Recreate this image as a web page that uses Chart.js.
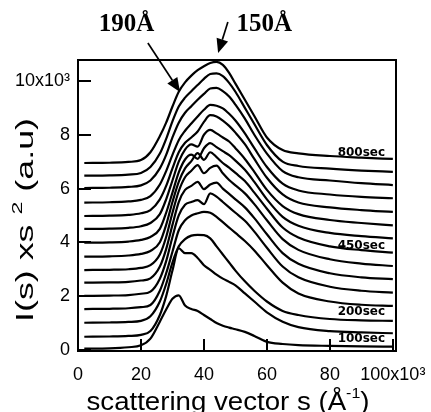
<!DOCTYPE html>
<html><head><meta charset="utf-8">
<script src="https://cdn.jsdelivr.net/npm/chart.js@4.4.1/dist/chart.umd.min.js"></script>
<style>html,body{margin:0;padding:0;background:#fff;}canvas{display:block;}</style>
</head><body>
<canvas id="c" width="431" height="412"></canvas>
<script>
// scattering vector s (x10^-3 Å^-1)
const sValues = [2,10,16,20,23,26,28,30,32,34,36,38,40,42,44,46,48,50,53,56,60,65,70,80,90,100];
const timeLabels = ['100sec','150sec','200sec','250sec','300sec','350sec','400sec','450sec','500sec','550sec','600sec','650sec','700sec','750sec','800sec'];
const curve100 = [0.05,0.06,0.1,0.17,0.42,1.05,1.5,1.9,2.03,1.65,1.52,1.45,1.3,1.15,1.0,0.9,0.83,0.77,0.67,0.52,0.3,0.22,0.18,0.15,0.13,0.12];
const curve150 = [0.49,0.50,0.52,0.56,0.7,1.3,2.0,2.95,3.78,3.6,3.6,3.42,3.15,2.98,2.8,2.65,2.53,2.4,2.1,1.8,1.4,1.05,0.85,0.7,0.65,0.62];
const curve200 = [1.01,1.02,1.04,1.08,1.25,1.8,2.45,3.25,3.85,4.12,4.25,4.28,4.27,4.15,3.85,3.55,3.25,2.95,2.55,2.2,1.8,1.45,1.3,1.15,1.1,1.08];
const curve250 = [1.52,1.53,1.55,1.59,1.67,2.2,2.85,3.65,4.45,4.82,5.0,5.08,5.13,5.1,4.95,4.75,4.55,4.35,4.05,3.7,3.15,2.5,2.1,1.8,1.68,1.64];
const curve300 = [2.01,2.02,2.04,2.09,2.17,2.65,3.3,4.2,5.0,5.4,5.5,5.57,5.42,5.82,5.7,5.5,5.3,5.1,4.8,4.4,3.8,3.1,2.7,2.35,2.2,2.13];
const curve350 = [2.50,2.51,2.53,2.58,2.66,3.1,3.75,4.65,5.5,5.95,6.1,6.25,5.98,6.15,6.22,6.0,5.8,5.6,5.3,4.9,4.3,3.6,3.2,2.85,2.7,2.63];
const curve400 = [2.97,2.98,3.0,3.05,3.15,3.55,4.2,5.1,5.9,6.42,6.66,6.87,6.57,6.77,6.85,6.57,6.32,6.12,5.82,5.42,4.82,4.12,3.72,3.37,3.21,3.12];
const curve450 = [3.47,3.48,3.51,3.57,3.68,4.0,4.65,5.5,6.25,6.75,7.02,7.32,7.07,7.35,7.17,6.95,6.78,6.58,6.28,5.85,5.25,4.55,4.18,3.85,3.71,3.62];
const curve500 = [3.99,4.00,4.03,4.09,4.2,4.5,5.1,5.85,6.6,7.08,7.26,7.1,7.5,7.69,7.54,7.39,7.24,7.04,6.7,6.25,5.6,4.95,4.62,4.35,4.23,4.15];
const curve550 = [4.50,4.51,4.54,4.60,4.72,5.05,5.6,6.3,7.0,7.45,7.64,7.56,8.0,8.18,8.05,7.9,7.75,7.5,7.1,6.62,5.95,5.35,5.05,4.83,4.72,4.63];
const curve600 = [4.98,4.99,5.02,5.08,5.2,5.6,6.1,6.75,7.35,7.7,7.9,8.12,8.48,8.73,8.68,8.53,8.33,8.08,7.65,7.1,6.4,5.78,5.48,5.3,5.2,5.13];
const curve650 = [5.48,5.49,5.52,5.58,5.72,6.15,6.65,7.25,7.8,8.15,8.42,8.68,8.93,9.11,9.08,8.98,8.78,8.53,8.05,7.5,6.8,6.18,5.93,5.78,5.69,5.64];
const curve700 = [6.02,6.03,6.06,6.12,6.3,6.75,7.25,7.9,8.45,8.82,9.06,9.3,9.52,9.72,9.74,9.62,9.42,9.12,8.6,8.0,7.3,6.65,6.42,6.3,6.2,6.13];
const curve750 = [6.48,6.49,6.52,6.58,6.8,7.3,7.85,8.5,9.05,9.38,9.62,9.85,10.08,10.26,10.28,10.18,9.93,9.6,9.0,8.4,7.62,7.0,6.84,6.74,6.67,6.62];
const curve800 = [6.95,6.96,6.99,7.06,7.35,7.95,8.45,9.05,9.6,9.95,10.2,10.4,10.55,10.67,10.71,10.6,10.3,9.9,9.3,8.7,7.9,7.43,7.31,7.21,7.15,7.10];
const curves = [curve100,curve150,curve200,curve250,curve300,curve350,curve400,curve450,curve500,curve550,curve600,curve650,curve700,curve750,curve800];

const xTickValues = [0,20,40,60,80,100];
const xTickLabels = ['0','20','40','60','80','100x10³'];
const yTickValues = [0,2,4,6,8,10];
const yTickLabels = ['0','2','4','6','8','10x10³'];

// right-side time labels (text + where they sit, in data units)
const sideLabelTexts = ['100sec','200sec','450sec','800sec'];
const sideLabelY = [0.41,1.41,3.87,7.32];
const sideLabelX = 90;

// peak annotations (data units)
const annoTexts = ['190Å','150Å'];
const annoTextX = [15.4,59.2];
const annoTextY = [11.84,11.84];
const arrowFromX = [22.2,47.6], arrowFromY = [11.41,12.19];
const arrowToX = [32.4,44.5], arrowToY = [9.59,11.04];

const SANS = "'Liberation Sans', Arial, sans-serif";

function drawArrow(ctx,x0,y0,x1,y1){
  const ang=Math.atan2(y1-y0,x1-x0), L=14, W=6;
  const bx=x1-L*Math.cos(ang), by=y1-L*Math.sin(ang);
  ctx.beginPath(); ctx.moveTo(x0,y0); ctx.lineTo(bx,by); ctx.lineWidth=1.7; ctx.stroke();
  ctx.beginPath(); ctx.moveTo(x1,y1);
  ctx.lineTo(bx+W*Math.sin(ang), by-W*Math.cos(ang));
  ctx.lineTo(bx-W*Math.sin(ang), by+W*Math.cos(ang));
  ctx.closePath(); ctx.fill();
}
function drawPieces(ctx,pieces,width){
  let W=0; pieces.forEach(p=>{ctx.font=p.f; p.w=ctx.measureText(p.t).width; W+=p.w;});
  ctx.scale(width/W,1);
  let xx=-W/2; ctx.textAlign='left';
  pieces.forEach(p=>{ctx.font=p.f; ctx.fillText(p.t,xx,p.dy); xx+=p.w;});
}

const decor = {
  id:'decor',
  afterDraw(chart){
    const {ctx, chartArea:a, scales:{x,y}} = chart;
    ctx.save();
    ctx.strokeStyle='#000'; ctx.fillStyle='#000';
    ctx.lineWidth=2;
    ctx.strokeRect(a.left,a.top,a.right-a.left,a.bottom-a.top);
    ctx.beginPath();
    yTickValues.forEach(v=>{const py=Math.round(y.getPixelForValue(v)); ctx.moveTo(a.left,py); ctx.lineTo(a.left+13,py);});
    xTickValues.forEach(v=>{const px=Math.round(x.getPixelForValue(v)); ctx.moveTo(px,a.bottom); ctx.lineTo(px,a.bottom-12);});
    ctx.stroke();
    // side labels
    ctx.font="bold 12px 'DejaVu Sans'"; ctx.textAlign='center'; ctx.textBaseline='middle';
    sideLabelTexts.forEach((t,i)=>ctx.fillText(t,x.getPixelForValue(sideLabelX),y.getPixelForValue(sideLabelY[i])));
    // annotations
    ctx.font="bold 25px 'Liberation Serif', 'Times New Roman', serif"; ctx.textBaseline='alphabetic';
    annoTexts.forEach((t,i)=>{
      ctx.fillText(t,x.getPixelForValue(annoTextX[i]),y.getPixelForValue(annoTextY[i]));
      drawArrow(ctx,x.getPixelForValue(arrowFromX[i]),y.getPixelForValue(arrowFromY[i]),x.getPixelForValue(arrowToX[i]),y.getPixelForValue(arrowToY[i]));
    });
    // x title
    ctx.save();
    ctx.textBaseline='alphabetic';
    ctx.translate(228, 410);
    drawPieces(ctx,[{t:'scattering vector s (Å',f:'26px '+SANS,dy:0},{t:'-1',f:'15px '+SANS,dy:-12},{t:')',f:'26px '+SANS,dy:0}],283);
    ctx.restore();
    // y title
    ctx.save();
    ctx.textBaseline='middle';
    ctx.translate(27,220); ctx.rotate(-Math.PI/2);
    drawPieces(ctx,[{t:'I(s) xs ',f:'23px '+SANS,dy:0},{t:'2',f:'15px '+SANS,dy:-9},{t:' (a.u)',f:'23px '+SANS,dy:0}],204);
    ctx.restore();
    ctx.restore();
  }
};

const datasets = curves.map((c,i)=>({
  label: timeLabels[i],
  data: sValues.map((s,j)=>({x:s,y:c[j]})),
  borderColor:'#000', borderWidth:2.2, pointRadius:0, fill:false,
  cubicInterpolationMode:'monotone'
}));

new Chart(document.getElementById('c'),{
  type:'line',
  data:{datasets},
  plugins:[decor],
  options:{
    responsive:false, animation:false, devicePixelRatio:1,
    layout:{padding:{left:0,right:35,top:60,bottom:0}},
    plugins:{legend:{display:false},tooltip:{enabled:false}},
    scales:{
      x:{type:'linear',min:0,max:101,
        afterFit(s){s.height=61; s.paddingLeft=0; s.paddingRight=0;},
        afterBuildTicks(s){s.ticks=xTickValues.map(v=>({value:v}));},
        grid:{display:false,drawTicks:false}, border:{display:false},
        ticks:{autoSkip:false,maxRotation:0,padding:13,color:'#000',font:{family:SANS,size:18},
          callback:(v)=>xTickLabels[xTickValues.indexOf(v)]}},
      y:{type:'linear',min:-0.04,max:10.78,
        afterFit(s){s.width=78; s.paddingTop=0; s.paddingBottom=0;},
        afterBuildTicks(s){s.ticks=yTickValues.map(v=>({value:v}));},
        grid:{display:false,drawTicks:false}, border:{display:false},
        ticks:{autoSkip:false,padding:8,color:'#000',font:{family:SANS,size:18},
          callback:(v)=>yTickLabels[yTickValues.indexOf(v)]}}
    }
  }
});
</script>
</body></html>
